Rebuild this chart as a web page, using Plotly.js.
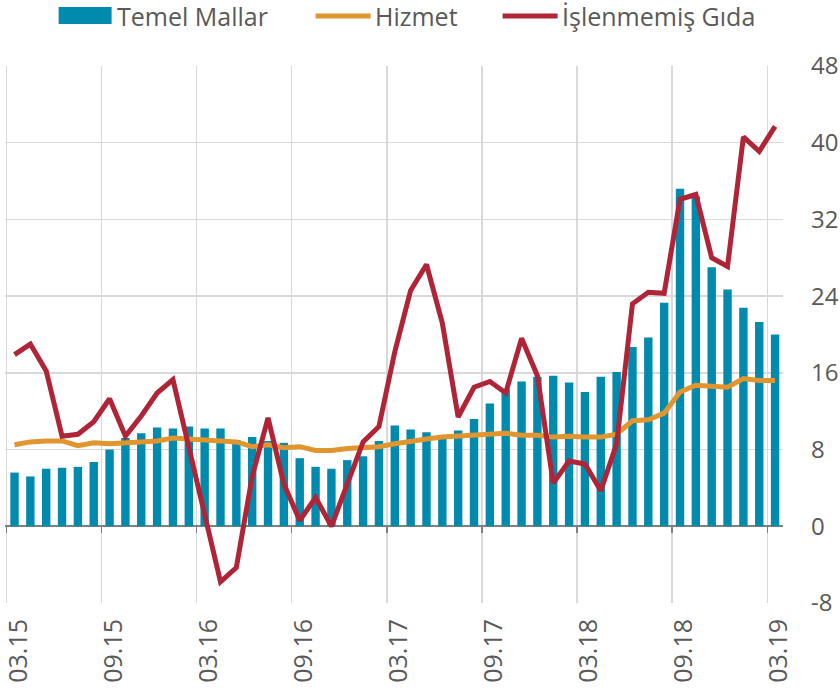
<!DOCTYPE html>
<html>
<head>
<meta charset="utf-8">
<script src="https://cdn.plot.ly/plotly-3.0.1.min.js"></script>
<style>html,body{margin:0;padding:0;background:#fff;}#chart{width:840px;height:694px;}</style>
</head>
<body>
<div id="chart"></div>
<script>
// Months 03.15 .. 03.19 (49 monthly points)
const months = ["03.15","04.15","05.15","06.15","07.15","08.15","09.15","10.15","11.15","12.15","01.16","02.16",
  "03.16","04.16","05.16","06.16","07.16","08.16","09.16","10.16","11.16","12.16","01.17","02.17",
  "03.17","04.17","05.17","06.17","07.17","08.17","09.17","10.17","11.17","12.17","01.18","02.18",
  "03.18","04.18","05.18","06.18","07.18","08.18","09.18","10.18","11.18","12.18","01.19","02.19","03.19"];
const tickLabels = ["03.15","09.15","03.16","09.16","03.17","09.17","03.18","09.18","03.19"];
const yTicks = [-8, 0, 8, 16, 24, 32, 40, 48];
const yTickLabels = ["-8", "0", "8", "16", "24", "32", "40", "48"];
const temelMallar = [5.6,5.2,6.0,6.1,6.2,6.7,8.0,9.2,9.7,10.3,10.2,10.4,
  10.2,10.2,9.0,9.3,8.9,8.7,7.1,6.2,6.0,6.9,7.3,8.9,
  10.5,10.1,9.8,9.2,10.0,11.2,12.8,14.3,15.1,15.6,15.7,15.0,
  14.0,15.6,16.1,18.7,19.7,23.3,35.2,34.4,27.0,24.7,22.8,21.3,20.0];
const hizmet = [8.5,8.8,8.9,8.9,8.4,8.7,8.6,8.7,8.8,8.9,9.2,9.1,
  8.9,8.8,8.8,8.3,8.5,8.2,8.3,7.9,7.9,8.1,8.2,8.3,
  8.6,8.9,9.1,9.3,9.4,9.5,9.6,9.7,9.5,9.5,9.3,9.4,
  9.3,9.3,9.6,11.0,11.1,11.8,14.0,14.7,14.6,14.5,15.4,15.2,15.2];
const islenmemisGida = [17.9,19.0,16.2,9.4,9.6,10.9,13.3,9.4,11.5,13.9,15.3,8.2,
  0.8,-5.8,-4.3,5.2,11.3,4.4,0.6,3.0,0.0,4.5,8.8,10.4,
  18.2,24.6,27.3,21.2,11.4,14.5,15.1,13.9,19.6,15.7,4.5,6.8,
  6.5,3.7,8.6,23.2,24.4,24.3,34.1,34.6,28.0,27.1,40.6,39.1,41.7];
const seriesNames = ["Temel Mallar","Hizmet","İşlenmemiş Gıda"];

const C_BAR = "#008AAD", C_ORANGE = "#E0952F", C_RED = "#AF2437";
const FONT = "Open Sans, sans-serif";
const TXT = "#595959";

const idx = months.map((m, i) => i);
const tickIdx = tickLabels.map(t => months.indexOf(t));
const boundaries = tickIdx.map(i => i - 0.5);
const LABEL_NUDGE = 0.25; // visual centring of rotated labels on their month

const traces = [
  {type: "bar", x: idx, y: temelMallar, name: seriesNames[0], marker: {color: C_BAR}, hoverinfo: "skip"},
  {type: "scatter", mode: "lines", x: idx, y: hizmet, name: seriesNames[1], line: {color: C_ORANGE, width: 5}, hoverinfo: "skip"},
  {type: "scatter", mode: "lines", x: idx, y: islenmemisGida, name: seriesNames[2], line: {color: C_RED, width: 5}, hoverinfo: "skip"},
  {type: "scatter", mode: "lines", x: [idx[0]], y: [0], xaxis: "x2", showlegend: false, hoverinfo: "skip", line: {width: 0}}
];

// plot area: left edge ~5.4px, top 66px
const L = 5.4, T = 66;
const shapes = [
  {type: "rect", xref: "paper", yref: "paper", xsizemode: "pixel", ysizemode: "pixel", xanchor: 0, yanchor: 1,
   x0: 59 - L, x1: 112 - L, y0: T - 7, y1: T - 24, fillcolor: C_BAR, line: {width: 0}},
  {type: "line", xref: "paper", yref: "paper", xsizemode: "pixel", ysizemode: "pixel", xanchor: 0, yanchor: 1,
   x0: 316 - L, x1: 371 - L, y0: T - 16, y1: T - 16, line: {color: C_ORANGE, width: 5}},
  {type: "line", xref: "paper", yref: "paper", xsizemode: "pixel", ysizemode: "pixel", xanchor: 0, yanchor: 1,
   x0: 503 - L, x1: 558 - L, y0: T - 16, y1: T - 16, line: {color: C_RED, width: 5}}
];
const legX = [115, 373, 560];
const annotations = seriesNames.map((n, k) => ({
  text: n, xref: "paper", yref: "paper", x: 0, y: 1, xanchor: "left", yanchor: "middle",
  xshift: legX[k] - L, yshift: T - 16, showarrow: false, font: {family: FONT, size: 25, color: TXT}
}));

const layout = {
  width: 840, height: 694,
  margin: {l: L, r: 57, t: T, b: 91, pad: 0},
  paper_bgcolor: "#fff", plot_bgcolor: "#fff",
  showlegend: false, hovermode: false,
  bargap: 0.47,
  font: {family: FONT, color: TXT, size: 24},
  xaxis: {
    range: [-0.6, 48.5], tickmode: "array", tickvals: tickIdx.map(v => v + LABEL_NUDGE), ticktext: tickLabels,
    tickangle: -90, showgrid: false, zeroline: false, showline: false, ticks: "",
    ticklabelstandoff: 10, ticklabeloverflow: "allow",
    tickfont: {family: FONT, size: 25, color: TXT},
    minor: {tickmode: "array", tickvals: boundaries, showgrid: true, gridcolor: "#D9D9D9", gridwidth: 1.3, ticks: ""}
  },
  xaxis2: {
    overlaying: "x", matches: "x", anchor: "free", position: 8 / 56, side: "bottom",
    tickmode: "array", tickvals: boundaries, ticks: "outside", ticklen: 6, tickwidth: 1.3, tickcolor: "#808080",
    showticklabels: false, showgrid: false, zeroline: false, showline: false
  },
  yaxis: {
    side: "right", range: [-8, 48], tickmode: "array", tickvals: yTicks, ticktext: yTickLabels,
    showgrid: true, gridcolor: "#D9D9D9", gridwidth: 1.3,
    zeroline: true, zerolinecolor: "#808080", zerolinewidth: 1.6,
    showline: false, ticks: "", ticklabelstandoff: 27,
    tickfont: {family: FONT, size: 24, color: TXT}
  },
  shapes: shapes,
  annotations: annotations
};

Plotly.newPlot("chart", traces, layout, {displayModeBar: false, staticPlot: true});
</script>
</body>
</html>
